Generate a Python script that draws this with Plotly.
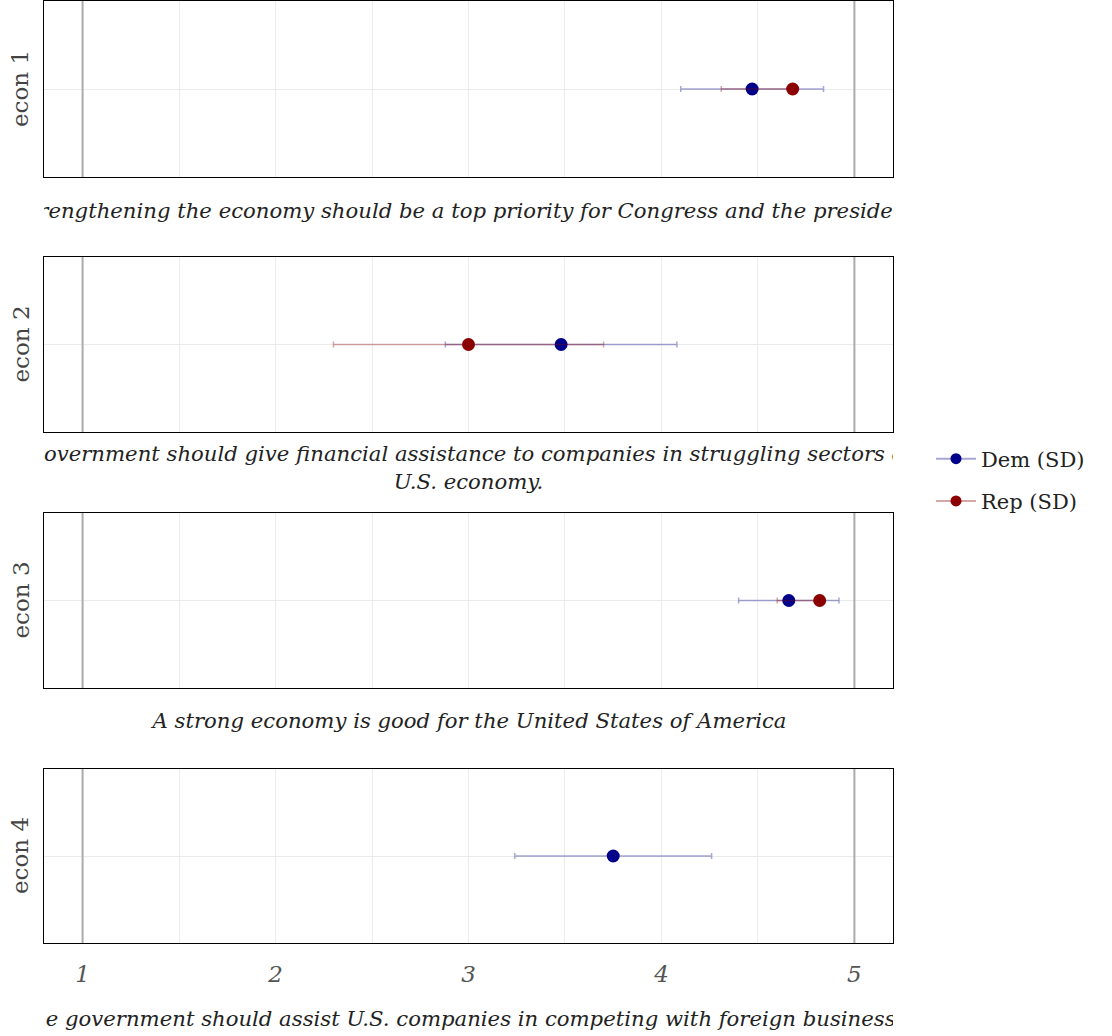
import plotly.graph_objects as go

# Survey items, one panel each
items = ["econ 1", "econ 2", "econ 3", "econ 4"]
prompts = [
    "Strengthening the economy should be a top priority for Congress and the president.",
    "The government should give financial assistance to companies in struggling sectors of the<br>U.S. economy.",
    "A strong economy is good for the United States of America",
    "The government should assist U.S. companies in competing with foreign businesses",
]

# Mean agreement (1-5 scale) and standard deviation by party
dem_mean = [4.47, 3.48, 4.66, 3.75]
dem_sd = [0.37, 0.60, 0.26, 0.51]
rep_mean = [4.68, 3.00, 4.82, None]
rep_sd = [0.37, 0.70, 0.22, None]

scale_lo, scale_hi = 1, 5

W, H = 1112, 1036
left_px, right_px = 44, 893
panels_px = [(1, 177), (257, 432), (513, 688), (769, 943)]
sub_y_px = [211, 467, 720, 1018]

FONT = "DejaVu Serif"
DEM_C, REP_C = "#00008B", "#8B0000"
DEM_E, REP_E = "rgba(0,0,139,0.35)", "rgba(139,0,0,0.35)"

fig = go.Figure()
layout = dict(
    width=W, height=H,
    margin=dict(l=0, r=0, t=0, b=0),
    paper_bgcolor="white", plot_bgcolor="white",
    showlegend=True,
    font=dict(family=FONT, color="#222"),
)
shapes, annotations = [], []


def arms(mean, sd):
    # drop an error arm that would leave the response scale
    if mean is None or sd is None:
        return 0, 0
    plus = sd if mean + sd <= scale_hi else 0
    minus = sd if mean - sd >= scale_lo else 0
    return plus, minus


grid_vals = [v / 2 for v in range(2, 11)]
for i, item in enumerate(items):
    n = "" if i == 0 else str(i + 1)
    xa, ya = "x" + n, "y" + n
    top, bot = panels_px[i]
    last = i == len(items) - 1

    layout["xaxis" + n] = dict(
        domain=[left_px / W, right_px / W],
        anchor=ya, range=[0.8, 5.2],
        tickvals=grid_vals,
        ticktext=[str(int(v)) if v == int(v) else "" for v in grid_vals],
        showticklabels=last,
        tickfont=dict(family=FONT, size=23, color="#555", style="italic"),
        ticks="", ticklabelstandoff=10,
        showgrid=True, gridcolor="#ebebeb", gridwidth=1,
        zeroline=False,
        showline=True, linecolor="black", linewidth=1, mirror=True,
        fixedrange=True,
    )
    layout["yaxis" + n] = dict(
        domain=[1 - bot / H, 1 - top / H],
        anchor=xa, range=[-1, 1],
        tickvals=[0], showticklabels=False, ticks="",
        showgrid=True, gridcolor="#ebebeb", gridwidth=1,
        zeroline=False,
        showline=True, linecolor="black", linewidth=1, mirror=True,
        fixedrange=True,
    )

    # scale end markers
    for xv in (scale_lo, scale_hi):
        shapes.append(dict(type="line", xref=xa, yref=ya + " domain",
                           x0=xv, x1=xv, y0=0, y1=1,
                           line=dict(color="#ababab", width=2), layer="above"))

    for mean, sd, col, ecol, name in (
        (dem_mean[i], dem_sd[i], DEM_C, DEM_E, "Dem (SD)"),
        (rep_mean[i], rep_sd[i], REP_C, REP_E, "Rep (SD)"),
    ):
        if mean is None:
            continue
        p, m = arms(mean, sd)
        fig.add_trace(go.Scatter(
            x=[mean], y=[0], xaxis=xa, yaxis=ya, mode="markers",
            marker=dict(color=col, size=13),
            error_x=dict(type="data", symmetric=False, array=[p], arrayminus=[m],
                         color=ecol, thickness=1.5, width=3),
            showlegend=False, name=name, hoverinfo="x+name",
        ))

    annotations.append(dict(
        text=item, xref="paper", yref="paper",
        x=20 / W, y=1 - (top + bot) / 2 / H, textangle=-90,
        showarrow=False, xanchor="center", yanchor="middle",
        font=dict(family=FONT, size=23, color="#444"),
    ))
    annotations.append(dict(
        text=prompts[i], xref="paper", yref="paper",
        x=(left_px + right_px) / 2 / W, y=1 - sub_y_px[i] / H,
        width=right_px - left_px, align="center",
        showarrow=False, xanchor="center", yanchor="middle",
        font=dict(family=FONT, size=21.2, color="#222", style="italic"),
    ))

# legend keys
for name, col, ecol in (("Dem (SD)", DEM_C, DEM_E), ("Rep (SD)", REP_C, REP_E)):
    fig.add_trace(go.Scatter(
        x=[None], y=[None], mode="lines+markers", name=name, legendgroup=name,
        line=dict(color=ecol, width=2), marker=dict(color=col, size=11),
    ))

layout["legend"] = dict(
    x=931 / W, y=1 - 480 / H, xanchor="left", yanchor="middle",
    font=dict(family=FONT, size=21, color="#222"),
    bgcolor="rgba(0,0,0,0)", itemwidth=40, tracegroupgap=12,
)
layout["shapes"] = shapes
layout["annotations"] = annotations
fig.update_layout(**layout)

fig.write_html("out.html")
